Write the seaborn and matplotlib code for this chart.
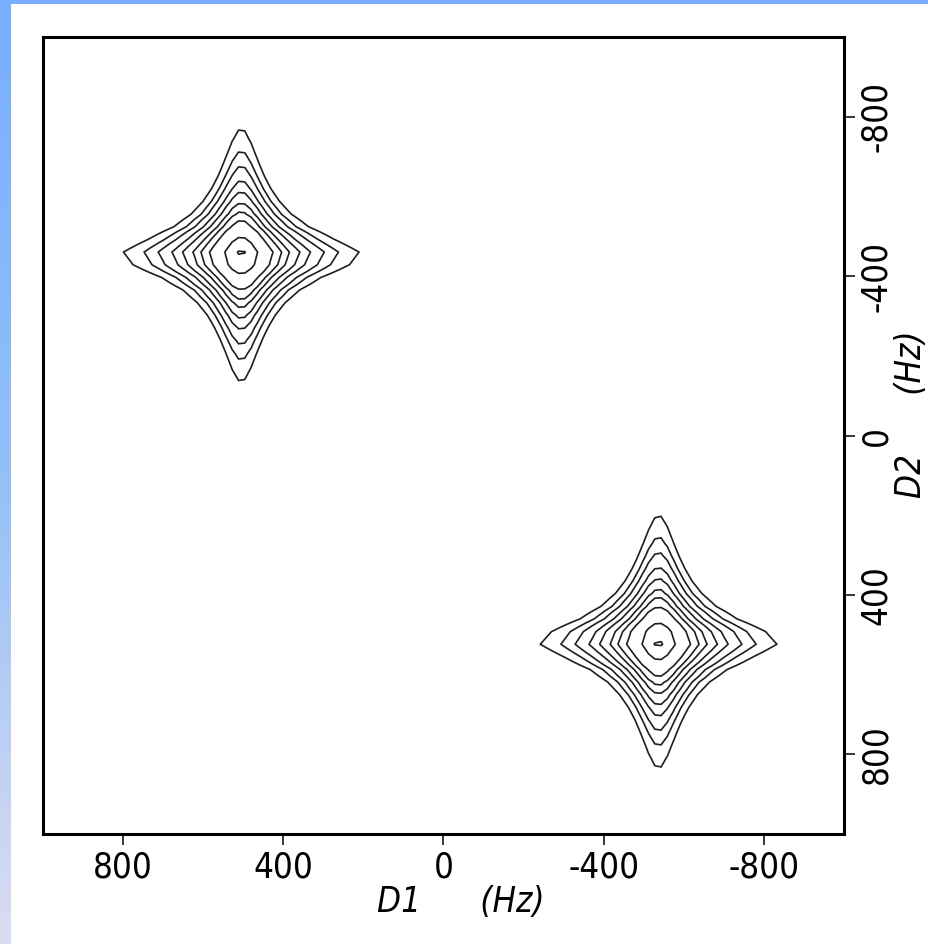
import numpy as np
import matplotlib
matplotlib.use("Agg")
import matplotlib.pyplot as plt
from matplotlib import font_manager
from matplotlib.colors import LinearSegmentedColormap
from matplotlib.patches import Rectangle
import seaborn as sns

# ---------------- data ----------------
peak_d1 = [505, -537]          # Hz, peak centres along D1
peak_d2 = [-452, 517]          # Hz, peak centres along D2
width_d1 = [48, 48]            # Hz, half-width at half-height along D1
width_d2 = [51, 51]            # Hz, half-width at half-height along D2
amplitude = [1.0, 1.0]
contour_levels = [0.0253, 0.0367, 0.0497, 0.070, 0.095, 0.134, 0.181, 0.265, 0.566, 0.93]
n_points_d1 = 128              # digital resolution of the spectrum along D1
n_points_d2 = 64               # digital resolution along D2
spectral_range = [1000, -1000] # Hz
x_ticks = [800, 400, 0, -400, -800]
x_tick_labels = ["800", "400", "0", "-400", "-800"]
y_ticks = [-800, -400, 0, 400, 800]
y_tick_labels = ["-800", "-400", "0", "400", "800"]
x_label = "D1      (Hz)"
y_label = "D2      (Hz)"
strip_colors = ["#78aeff", "#92c0f8", "#dcdcf0"]

# ---------------- style ----------------
sns.set_theme(style="white")
plt.rcParams["font.family"] = ["DejaVu Sans"]
plt.rcParams["axes.unicode_minus"] = False


def find_condensed(style):
    cands = []
    for f in font_manager.fontManager.ttflist:
        fn = f.fname.lower()
        if (str(f.stretch) in ("condensed", "semi-condensed", "extra-condensed")
                or "condensed" in fn or "narrow" in fn):
            if f.style == style and f.weight in (400, "normal", "regular", "book"):
                cands.append(f)
    cands.sort(key=lambda f: (0 if "DejaVu" in f.name else 1 if "Liberation" in f.name else 2))
    return cands[0].fname if cands else None


reg_path = find_condensed("normal")
obl_path = find_condensed("oblique") or find_condensed("italic")
TS = 25
if reg_path:
    tick_fp = font_manager.FontProperties(fname=reg_path, size=TS)
else:
    tick_fp = font_manager.FontProperties(family="Liberation Sans", size=TS)
if obl_path:
    lab_fp = font_manager.FontProperties(fname=obl_path, size=TS)
elif reg_path:
    lab_fp = font_manager.FontProperties(fname=reg_path, size=TS)
else:
    lab_fp = font_manager.FontProperties(family="Liberation Sans", style="italic", size=TS)

fig = plt.figure(figsize=(9.29, 9.44), dpi=100)
fig.patch.set_facecolor("white")

# decorative gradient strips
sax = fig.add_axes([0, 0, 11 / 929, 1])
grad = np.linspace(0, 1, 256).reshape(-1, 1)
sax.imshow(grad, aspect="auto", cmap=LinearSegmentedColormap.from_list("strip", strip_colors),
           extent=[0, 1, 0, 1], origin="upper")
sax.set_axis_off()
fig.add_artist(Rectangle((0, 1 - 4 / 944), 1, 4 / 944, transform=fig.transFigure,
                         color=strip_colors[0], lw=0, zorder=5))

ax = fig.add_axes([43 / 929, (944 - 834) / 944, 801 / 929, 797 / 944])

# spectrum surface from the peak parameters
d1 = np.linspace(spectral_range[0], spectral_range[1], n_points_d1)
d2 = np.linspace(-spectral_range[0], -spectral_range[1], n_points_d2)
D1, D2 = np.meshgrid(d1, d2)
Z = np.zeros_like(D1)
for c1, c2, w1, w2, a in zip(peak_d1, peak_d2, width_d1, width_d2, amplitude):
    Z += a / ((1 + ((D1 - c1) / w1) ** 2) * (1 + ((D2 - c2) / w2) ** 2))

ax.contour(D1, D2, Z, levels=contour_levels, colors="#1e1e1e", linewidths=1.2)

ax.set_xlim(1000, -1000)
ax.set_ylim(1000, -1000)

for s in ax.spines.values():
    s.set_visible(True)
    s.set_color("black")
    s.set_linewidth(2.2)

ax.set_xticks(x_ticks)
ax.set_xticklabels(x_tick_labels, fontproperties=tick_fp)
ax.yaxis.tick_right()
ax.set_yticks(y_ticks)
ax.set_yticklabels(y_tick_labels, rotation=90, va="center", fontproperties=tick_fp)
ax.tick_params(axis="x", bottom=True, top=False, direction="out", length=8, width=1.1,
               color="black", pad=4, labelcolor="black")
ax.tick_params(axis="y", right=True, left=False, direction="out", length=8, width=1.1,
               color="black", pad=3, labelcolor="black")

ax.set_xlabel(x_label, fontproperties=lab_fp, color="black")
ax.xaxis.set_label_coords(0.522, -0.064)
ax.yaxis.set_label_position("right")
ax.set_ylabel(y_label, fontproperties=lab_fp, color="black", rotation=90)
ax.yaxis.set_label_coords(1.063, 0.527)

ax.grid(False)
ax.set_facecolor("white")

fig.savefig("out.png", dpi=100, facecolor="white")
